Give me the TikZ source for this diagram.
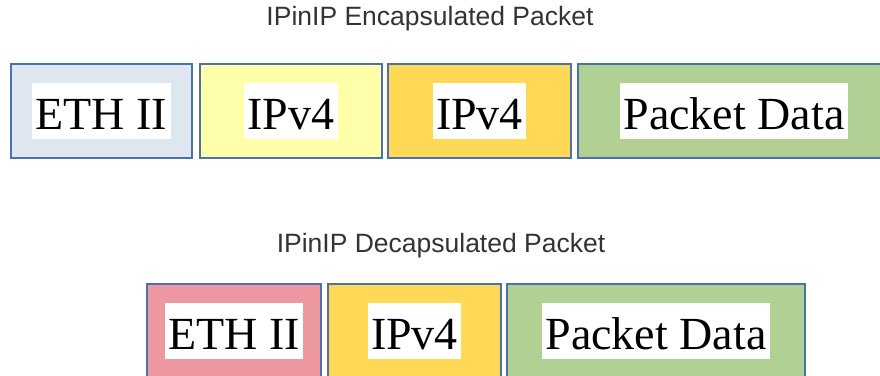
\documentclass[tikz,border=0pt]{standalone}
\usepackage{fontspec}
\setmainfont{Liberation Serif}
\newfontfamily\titlefont{Liberation Sans}
\usetikzlibrary{positioning}

\definecolor{frameblue}{RGB}{74,114,176}
\definecolor{ethblue}{RGB}{222,230,240}
\definecolor{ethpink}{RGB}{237,152,160}
\definecolor{ippale}{RGB}{255,255,170}
\definecolor{ipgold}{RGB}{255,217,85}
\definecolor{datagreen}{RGB}{176,208,148}
\definecolor{titlegray}{RGB}{51,51,51}

\tikzset{
  field/.style={draw=frameblue, line width=2.2pt, minimum height=94pt, inner sep=0pt},
  fieldtext/.style={fill=white, inner xsep=3.5pt, inner ysep=0pt,
    text height=46pt, text depth=10pt, font=\fontsize{46}{46}\selectfont},
  headline/.style={anchor=base, text=titlegray, font=\titlefont\fontsize{26.5}{26.5}\selectfont}
}

\begin{document}
\begin{tikzpicture}[x=1pt,y=-1pt]
  \useasboundingbox (0,0) rectangle (880,375);
  \clip (0,0) rectangle (880,375);

  % encapsulated packet
  \node[headline] (enctitle) at (430,25) {IPinIP Encapsulated Packet};
  \node[field,fill=ethblue,minimum width=181pt] (eth1) at (101.5,111) {};
  \node[field,fill=ippale,minimum width=182pt] (outer1) at (291,111) {};
  \node[field,fill=ipgold,minimum width=183pt] (inner1) at (479.5,111) {};
  \node[field,fill=datagreen,minimum width=312pt] (data1) at (734,111) {};
  \node[fieldtext] (eth1txt) at (eth1) {ETH II};
  \node[fieldtext] (outer1txt) at (outer1) {IPv4};
  \node[fieldtext] (inner1txt) at (inner1) {IPv4};
  \node[fieldtext] (data1txt) at (data1) {Packet Data};

  % decapsulated packet
  \node[headline] (dectitle) at (441,252) {IPinIP Decapsulated Packet};
  \node[field,fill=ethpink,minimum width=174pt] (eth2) at (234,331) {};
  \node[field,fill=ipgold,minimum width=173pt] (inner2) at (414.5,331) {};
  \node[field,fill=datagreen,minimum width=298pt] (data2) at (656,331) {};
  \node[fieldtext] (eth2txt) at (eth2) {ETH II};
  \node[fieldtext] (inner2txt) at (inner2) {IPv4};
  \node[fieldtext] (data2txt) at (data2) {Packet Data};
\end{tikzpicture}
\end{document}
